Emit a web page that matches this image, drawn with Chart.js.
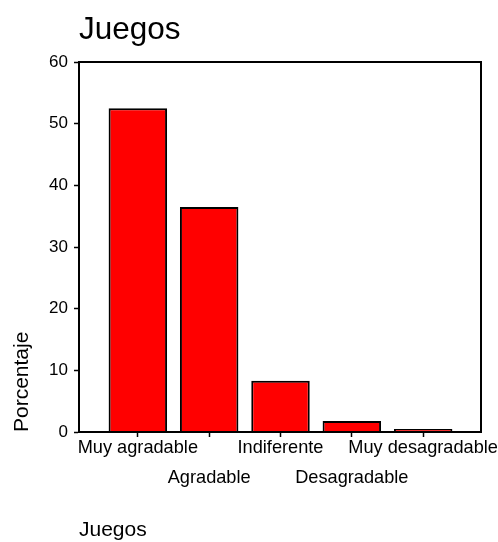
<!DOCTYPE html>
<html>
<head>
<meta charset="utf-8">
<title>Juegos</title>
<script src="https://cdn.jsdelivr.net/npm/chart.js@4"></script>
<style>
  body { margin: 0; background: #fff; }
  canvas { display: block; }
</style>
</head>
<body>
<canvas id="grafico" width="498" height="542"></canvas>
<script>
// datos
const categorias = ["Muy agradable", "Agradable", "Indiferente", "Desagradable", "Muy desagradable"];
const porcentajes = [52.5, 36.5, 8.3, 1.8, 0.5];
const ticksY = [0, 10, 20, 30, 40, 50, 60];

// etiquetas alternadas en dos filas
const etiquetas = categorias.map((c, i) => i % 2 === 0 ? [c] : ["", "", c]);

const marco = {
  id: "marco",
  afterDraw(chart) {
    const { ctx, chartArea: a } = chart;
    ctx.save();
    ctx.strokeStyle = "#000";
    ctx.lineWidth = 2;
    ctx.strokeRect(a.left, a.top, a.right - a.left, a.bottom - a.top);
    ctx.restore();
  }
};

const ctx = document.getElementById("grafico").getContext("2d");

new Chart(ctx, {
  type: "bar",
  data: {
    datasets: [{
      label: "Porcentaje",
      data: porcentajes.map((v, i) => ({ x: i, y: v })),
      backgroundColor: "#ff0000",
      borderColor: "#000",
      borderWidth: 2,
      categoryPercentage: 1,
      barPercentage: 0.82
    }]
  },
  options: {
    responsive: false,
    animation: false,
    devicePixelRatio: 1,
    layout: { padding: { left: 0, right: 17, top: 0, bottom: 0 } },
    plugins: {
      legend: { display: false },
      tooltip: { enabled: false },
      title: {
        display: true,
        text: "Juegos",
        align: "start",
        fullSize: false,
        color: "#000",
        font: { family: "Liberation Sans, Arial, sans-serif", size: 31.5, weight: "normal", lineHeight: 1.2 },
        padding: { top: 11, bottom: 13.2 }
      },
      subtitle: {
        display: true,
        text: "Juegos",
        position: "bottom",
        align: "start",
        fullSize: false,
        color: "#000",
        font: { family: "Liberation Sans, Arial, sans-serif", size: 21, lineHeight: 1 },
        padding: { top: 0, bottom: 1 }
      }
    },
    scales: {
      x: {
        type: "linear",
        offset: false,
        min: -0.825,
        max: 4.811,
        afterBuildTicks: s => { s.ticks = categorias.map((c, i) => ({ value: i })); },
        afterFit: s => { s.height = 542 - 432 - 22; s.paddingLeft = 0; s.paddingRight = 0; },
        grid: { offset: false, drawOnChartArea: false, drawTicks: true, tickLength: 5, color: "#000", tickWidth: 1.5 },
        border: { display: true, color: "#000", width: 2 },
        ticks: {
          autoSkip: false,
          maxRotation: 0,
          padding: 3,
          color: "#000",
          font: { family: "Liberation Sans, Arial, sans-serif", size: 18.2, lineHeight: 15 / 18.2 },
          callback: (v) => etiquetas[v]
        }
      },
      y: {
        min: 0,
        max: 60,
        afterBuildTicks: s => { s.ticks = ticksY.map(v => ({ value: v })); },
        afterFit: s => { s.width = 79; },
        grid: { drawOnChartArea: false, drawTicks: true, tickLength: 5, color: "#000", tickWidth: 1.5 },
        border: { display: true, color: "#000", width: 2 },
        ticks: {
          padding: 6,
          color: "#000",
          font: { family: "Liberation Sans, Arial, sans-serif", size: 17 }
        },
        title: {
          display: true,
          text: "Porcentaje",
          align: "start",
          color: "#000",
          font: { family: "Liberation Sans, Arial, sans-serif", size: 21, lineHeight: 1.2 },
          padding: { top: 10, bottom: 0 }
        }
      }
    }
  },
  plugins: [marco]
});
</script>
</body>
</html>
